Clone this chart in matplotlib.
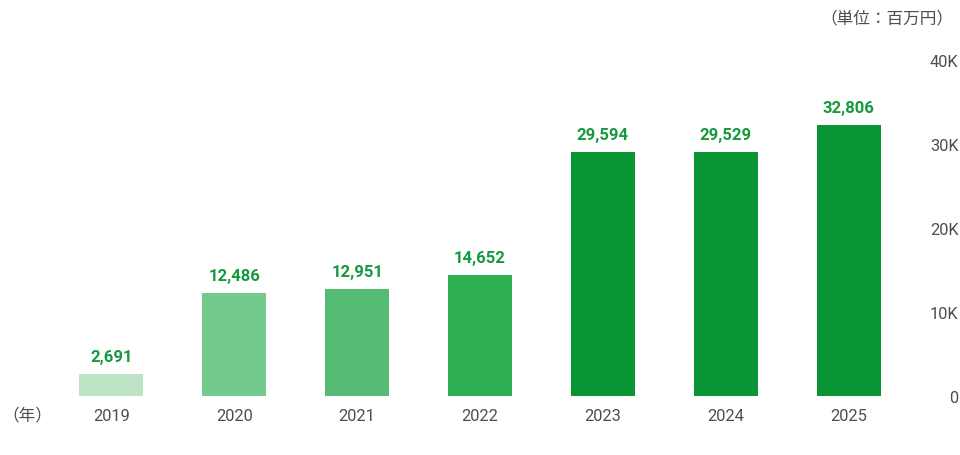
import matplotlib
matplotlib.use("Agg")
import matplotlib.pyplot as plt
from matplotlib.transforms import ScaledTranslation

years = ["2019", "2020", "2021", "2022", "2023", "2024", "2025"]
values = [2691, 12486, 12951, 14652, 29594, 29529, 32806]
bar_colors = ["#bce3c4", "#74c98c", "#56bb75", "#2cae51", "#0a9535", "#0a9535", "#0a9535"]
ytick_vals = [0, 10000, 20000, 30000, 40000]
ytick_labels = ["0", "10K", "20K", "30K", "40K"]

plt.rcParams['font.family'] = ['Roboto', 'Noto Sans CJK JP', 'DejaVu Sans']

fig = plt.figure(figsize=(9.6, 4.56), dpi=100)
ax = fig.add_axes([50/960, 59/456, 860/960, 330/456])

x = list(range(len(years)))
ax.bar(x, values, width=64/122.8, color=bar_colors, zorder=2)
for xi, v in zip(x, values):
    ax.annotate(f"{v:,}", (xi, v), xytext=(0, 9.5), textcoords="offset points",
                ha="center", va="baseline", fontsize=12, fontweight="bold",
                color="#16993c")

ax.set_xlim(-0.5, len(years) - 0.5)
ax.set_ylim(0, 40000)
ax.set_xticks(x)
ax.set_xticklabels(years, fontsize=11.8, color="#4a4f4d")
ax.yaxis.tick_right()
ax.set_yticks(ytick_vals)
ax.set_yticklabels(ytick_labels, fontsize=11.8, color="#4a4f4d", ha="right")
ax.tick_params(axis="y", length=0, pad=35)
ax.tick_params(axis="x", length=0, pad=8.5)
for k, lab in enumerate(ax.get_yticklabels()):
    lab.set_transform(lab.get_transform() + ScaledTranslation(0, k * 1.5 / 100, fig.dpi_scale_trans))
for s in ax.spines.values():
    s.set_visible(False)

fig.text(27/960, 1 - 415/456, "（年）", ha="center", va="center", fontsize=12, color="#4a4f4d")
fig.text(953/960, 1 - 18/456, "（単位：百万円）", ha="right", va="center", fontsize=12, color="#4a4f4d")

fig.savefig("out.png", dpi=100)
